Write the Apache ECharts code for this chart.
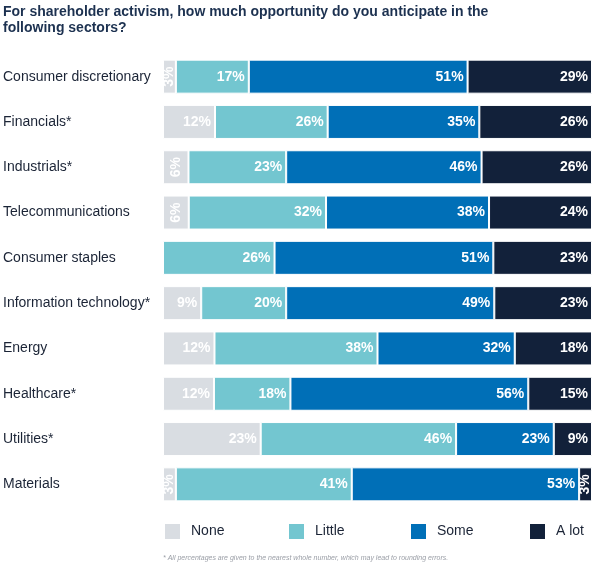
<!DOCTYPE html>
<html>
<head>
<meta charset="utf-8">
<script src="https://cdn.jsdelivr.net/npm/echarts@6/dist/echarts.min.js"></script>
<style>
html,body{margin:0;padding:0;background:#fff;}
#chart{width:595px;height:566px;}
</style>
</head>
<body>
<div id="chart"></div>
<script>
const categories = ["Consumer discretionary","Financials*","Industrials*","Telecommunications","Consumer staples","Information technology*","Energy","Healthcare*","Utilities*","Materials"];
const none   = [3,12,6,6,0,9,12,12,23,3];
const little = [17,26,23,32,26,20,38,18,46,41];
const some   = [51,35,46,38,51,49,32,56,23,53];
const alot   = [29,26,26,24,23,23,18,15,9,3];
const seriesNames = ["None","Little","Some","A lot"];
const colors = ["#d9dde2","#73c6d0","#006fb7","#12213a"];

const FONT = "Liberation Sans, Arial, Helvetica, sans-serif";
const all = [none, little, some, alot];
const totals = categories.map((c,i)=>all.reduce((s,a)=>s+a[i],0));

function makeData(arr){
  return arr.map((v,i)=>{
    const item = {value: v/totals[i]*100, raw: v};
    if (v === 0) item.label = {show:false};
    else if (v < 7) item.label = {position:'inside', rotate:90, align:'center', verticalAlign:'middle'};
    return item;
  });
}

const series = all.map((arr,k)=>({
  name: seriesNames[k],
  type: 'bar',
  stack: 'total',
  barWidth: 34,
  data: makeData(arr),
  itemStyle: {color: colors[k], borderColor:'#fff', borderWidth:1},
  label: {
    show: true,
    position: 'insideRight',
    distance: 4,
    color: '#fff',
    fontFamily: FONT,
    fontWeight: 'bold',
    fontSize: 14,
    formatter: p => p.data.raw + '%'
  },
  emphasis: {disabled: true}
}));

const legendLefts = [163, 287, 409, 528];
const legends = seriesNames.map((n,k)=>({
  data: [n],
  left: legendLefts[k],
  top: 522,
  padding: 0,
  itemWidth: 17,
  itemHeight: 17,
  icon: 'rect',
  selectedMode: false,
  textStyle: {fontFamily: FONT, fontSize: 14, color: '#1b2436', padding:[0,0,0,5]}
}));

const chart = echarts.init(document.getElementById('chart'));
chart.setOption({
  animation: false,
  title: {
    text: 'For shareholder activism, how much opportunity do you anticipate in the\nfollowing sectors?',
    left: 3, top: 4, padding: 0,
    textStyle: {fontFamily: FONT, fontWeight: 'bold', fontSize: 14, color: '#1c3150', lineHeight: 16}
  },
  legend: legends,
  grid: {left: 163, right: 3, top: 54, height: 453},
  xAxis: {type:'value', min:0, max:100, show:false},
  yAxis: {
    type:'category', data: categories, inverse: true,
    axisLine:{show:false}, axisTick:{show:false},
    axisLabel: {align:'left', margin:160, fontFamily: FONT, fontSize: 14, color:'#1b2436'}
  },
  series: series,
  graphic: [{
    type:'text', left: 163, top: 555,
    style: {text:'* All percentages are given to the nearest whole number, which may lead to rounding errors.',
      font: 'italic 7px ' + FONT, fill:'#9a9ea6'}
  }]
});
</script>
</body>
</html>
